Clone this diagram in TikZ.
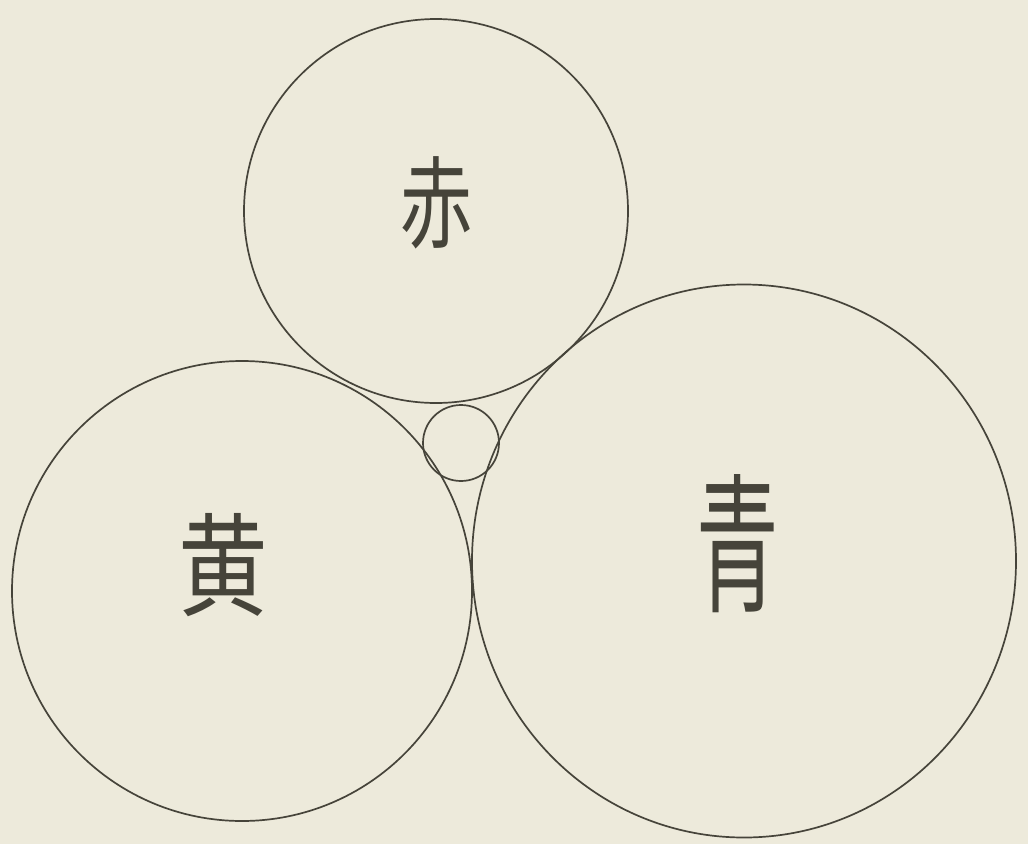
\documentclass[tikz,border=0pt]{standalone}
\usepackage{fontspec}
\usetikzlibrary{shapes.geometric}
\newfontfamily\cjk{Noto Sans CJK JP}
\definecolor{paper}{RGB}{237,234,219}
\definecolor{ink}{RGB}{70,68,58}
\begin{document}
\begin{tikzpicture}[x=1pt,y=-1pt,
  ring/.style={circle,draw=ink,line width=1.7pt,inner sep=0pt,minimum size=#1},
  glyph/.style={text=ink,inner sep=0pt,font=\cjk}]
\fill[paper] (0,0) rectangle (1028,844);
\useasboundingbox (0,0) rectangle (1028,844);
\node[ring=384pt] (red) at (436,211) {};
\node[ring=460pt] (yellow) at (242,591) {};
\node[ellipse,draw=ink,line width=1.7pt,inner sep=0pt,minimum width=544pt,minimum height=553pt] (blue) at (744,561) {};
\node[ring=76pt] (mid) at (461,443) {};
\node[glyph,font=\cjk\fontsize{100}{100}\selectfont,xscale=0.72] (tred) at (436,203) {赤};
\node[glyph,font=\cjk\fontsize{112}{112}\selectfont,xscale=0.8] (tyellow) at (223,565) {黄};
\node[glyph,font=\cjk\fontsize{150}{150}\selectfont,xscale=0.55] (tblue) at (738,544) {青};
\end{tikzpicture}
\end{document}
